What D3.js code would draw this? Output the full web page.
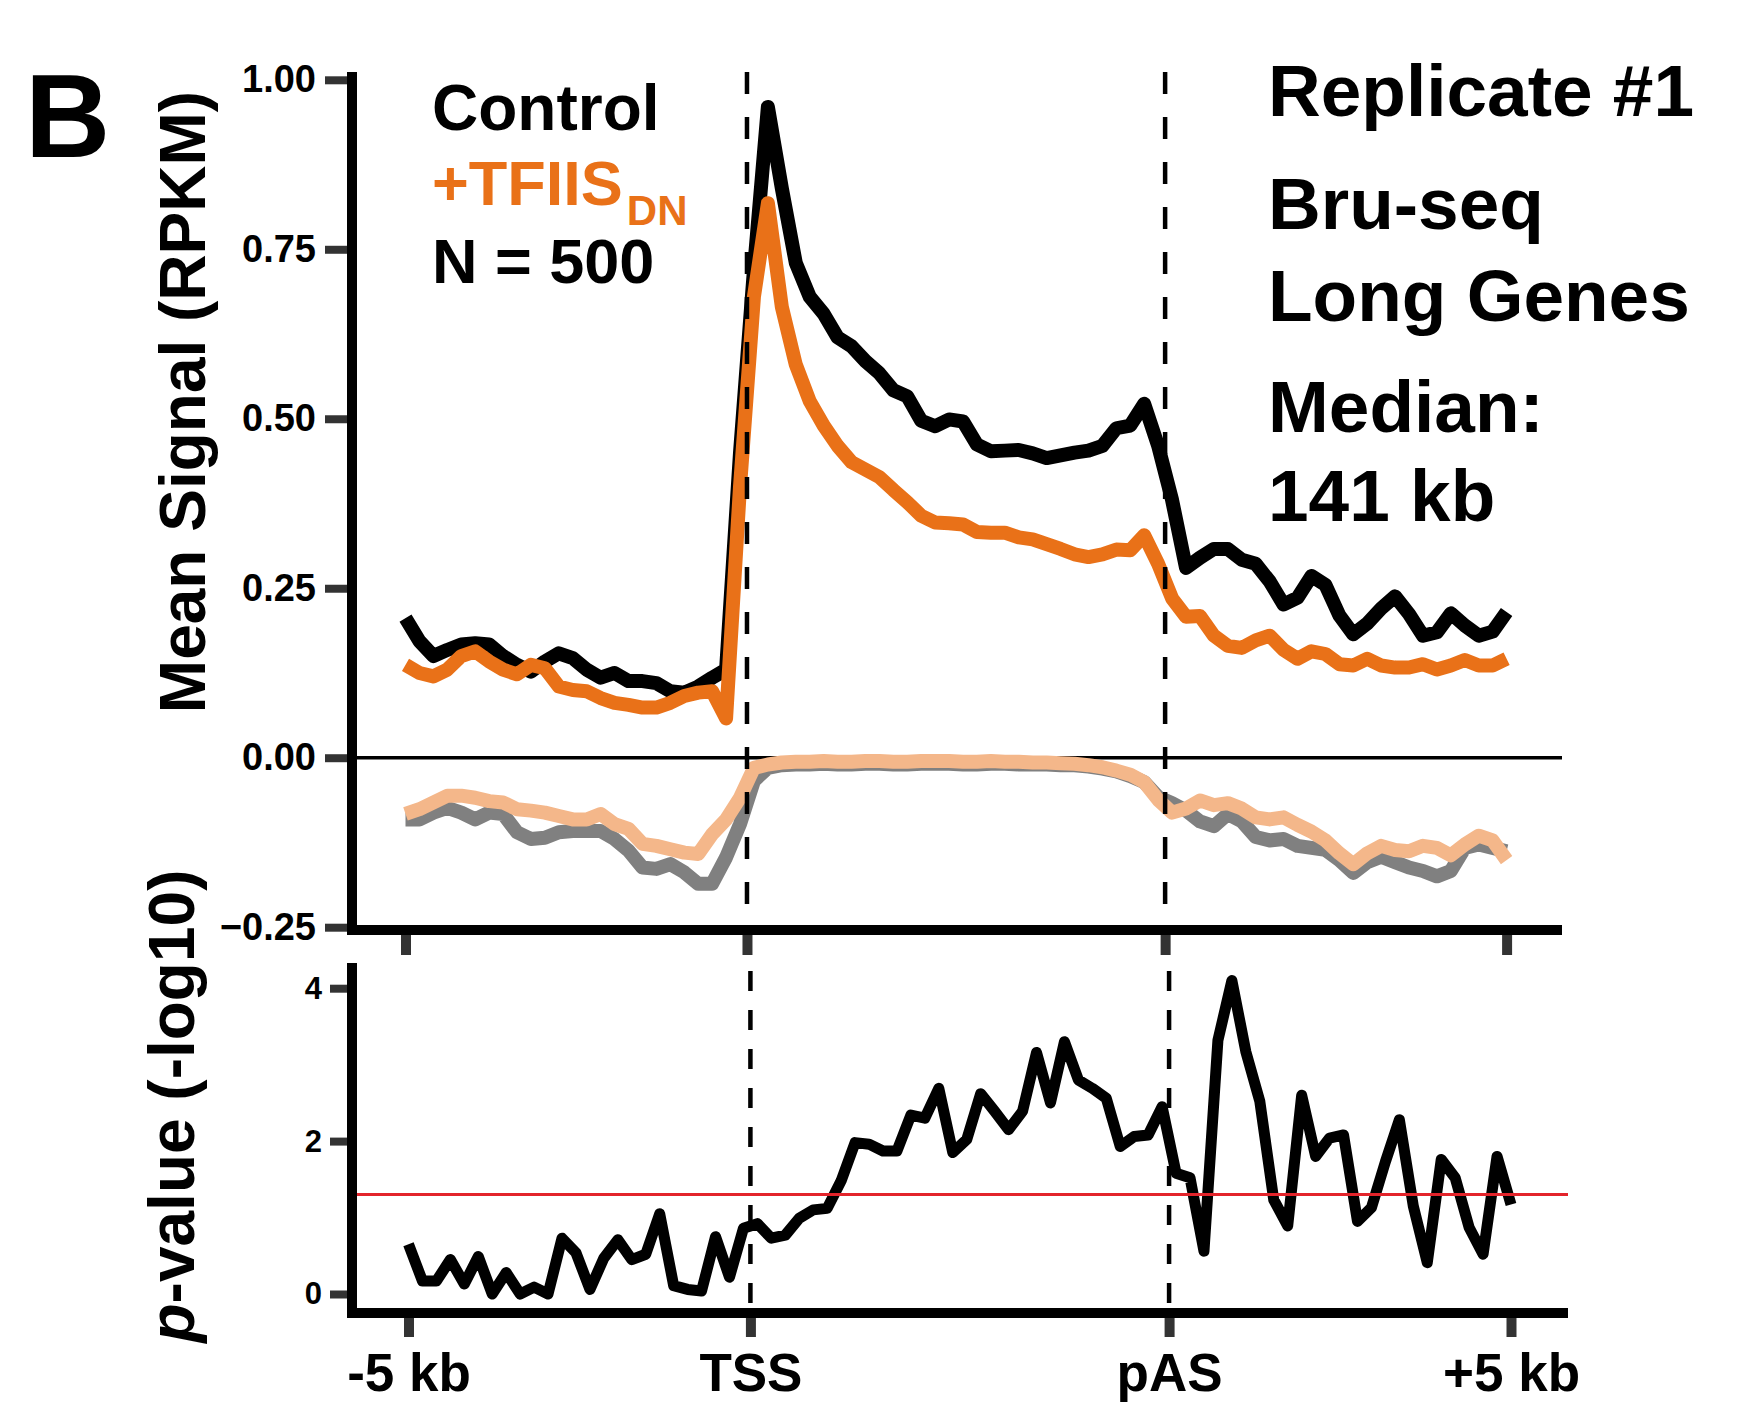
<!DOCTYPE html>
<html>
<head>
<meta charset="utf-8">
<script src="https://cdn.jsdelivr.net/npm/d3@7"></script>
<style>
  html, body { margin: 0; padding: 0; background: #fff; }
  svg { display: block; font-family: 'Liberation Sans', Arial, Helvetica, sans-serif; font-weight: bold; }
</style>
</head>
<body>
<svg width="1737" height="1402"></svg>
<script>
// metagene bins: 25 upstream, 30 gene body, 25 downstream
const positionTicks = [0, 24.5, 54.5, 79];
const positionLabels = ['-5 kb', 'TSS', 'pAS', '+5 kb'];
const signalTicks = [-0.25, 0, 0.25, 0.5, 0.75, 1];
const signalLabels = ['\u22120.25', '0.00', '0.25', '0.50', '0.75', '1.00'];
const pValueTicks = [0, 2, 4];
const pValueCutoff = 1.301; // -log10(0.05)

const controlSignal = [
  0.206, 0.172, 0.150, 0.159, 0.167, 0.169, 0.167, 0.150, 0.137, 0.127,
  0.142, 0.154, 0.147, 0.130, 0.118, 0.125, 0.113, 0.113, 0.110, 0.098,
  0.096, 0.105, 0.118, 0.130, 0.450, 0.720, 0.960, 0.840, 0.730, 0.680,
  0.655, 0.620, 0.607, 0.585, 0.567, 0.542, 0.533, 0.497, 0.489, 0.499,
  0.496, 0.462, 0.452, 0.453, 0.454, 0.449, 0.442, 0.446, 0.450, 0.453,
  0.460, 0.486, 0.490, 0.522, 0.460, 0.380, 0.280, 0.295, 0.308, 0.308,
  0.292, 0.286, 0.260, 0.226, 0.236, 0.268, 0.255, 0.210, 0.182, 0.198,
  0.220, 0.238, 0.212, 0.180, 0.185, 0.213, 0.195, 0.180, 0.186, 0.215,
];

const tfiisSignal = [
  0.137, 0.125, 0.120, 0.130, 0.150, 0.157, 0.142, 0.130, 0.123, 0.137,
  0.132, 0.105, 0.100, 0.098, 0.088, 0.081, 0.078, 0.074, 0.074, 0.081,
  0.091, 0.096, 0.098, 0.058, 0.400, 0.680, 0.818, 0.665, 0.580, 0.526,
  0.490, 0.460, 0.436, 0.425, 0.414, 0.395, 0.377, 0.357, 0.347, 0.346,
  0.344, 0.333, 0.332, 0.332, 0.325, 0.322, 0.315, 0.308, 0.300, 0.296,
  0.300, 0.307, 0.306, 0.328, 0.286, 0.235, 0.208, 0.209, 0.180, 0.165,
  0.162, 0.173, 0.180, 0.159, 0.146, 0.157, 0.153, 0.138, 0.136, 0.146,
  0.136, 0.133, 0.133, 0.138, 0.130, 0.136, 0.144, 0.136, 0.136, 0.146,
];

const controlDelta = [
  -0.091, -0.091, -0.081, -0.074, -0.081, -0.091, -0.081, -0.083, -0.110, -0.120,
  -0.118, -0.110, -0.108, -0.108, -0.108, -0.120, -0.137, -0.162, -0.164, -0.157,
  -0.169, -0.186, -0.186, -0.147, -0.098, -0.034, -0.015, -0.011, -0.010, -0.010,
  -0.009, -0.010, -0.010, -0.009, -0.009, -0.010, -0.010, -0.009, -0.009, -0.009,
  -0.010, -0.010, -0.009, -0.009, -0.010, -0.010, -0.010, -0.011, -0.011, -0.013,
  -0.016, -0.020, -0.027, -0.036, -0.058, -0.067, -0.078, -0.094, -0.101, -0.083,
  -0.094, -0.117, -0.122, -0.120, -0.130, -0.133, -0.136, -0.151, -0.170, -0.154,
  -0.146, -0.154, -0.162, -0.167, -0.175, -0.167, -0.133, -0.128, -0.133, -0.138,
];

const tfiisDelta = [
  -0.083, -0.076, -0.066, -0.056, -0.056, -0.059, -0.064, -0.066, -0.076, -0.078,
  -0.081, -0.086, -0.091, -0.091, -0.083, -0.098, -0.105, -0.127, -0.130, -0.135,
  -0.140, -0.142, -0.113, -0.091, -0.059, -0.015, -0.010, -0.007, -0.006, -0.006,
  -0.005, -0.006, -0.006, -0.005, -0.005, -0.006, -0.006, -0.005, -0.005, -0.005,
  -0.006, -0.006, -0.005, -0.006, -0.006, -0.007, -0.007, -0.008, -0.009, -0.011,
  -0.014, -0.019, -0.025, -0.036, -0.062, -0.081, -0.075, -0.063, -0.070, -0.067,
  -0.075, -0.088, -0.091, -0.088, -0.099, -0.109, -0.122, -0.141, -0.157, -0.141,
  -0.130, -0.136, -0.138, -0.130, -0.133, -0.144, -0.128, -0.115, -0.122, -0.151,
];

const pValue = [
  0.65, 0.17, 0.17, 0.45, 0.13, 0.49, 0.00, 0.28, 0.00, 0.09,
  0.00, 0.73, 0.54, 0.06, 0.47, 0.71, 0.45, 0.52, 1.05, 0.11,
  0.06, 0.04, 0.75, 0.22, 0.86, 0.92, 0.73, 0.77, 0.99, 1.10,
  1.12, 1.48, 1.98, 1.96, 1.87, 1.87, 2.34, 2.30, 2.69, 1.85,
  2.02, 2.62, 2.39, 2.15, 2.39, 3.16, 2.50, 3.30, 2.80, 2.69,
  2.56, 1.93, 2.06, 2.08, 2.45, 1.58, 1.52, 0.56, 3.32, 4.10,
  3.17, 2.52, 1.23, 0.89, 2.60, 1.80, 2.04, 2.08, 0.95, 1.13,
  1.73, 2.28, 1.15, 0.41, 1.76, 1.52, 0.87, 0.52, 1.80, 1.17,
];

const svg = d3.select('svg');

const topBox = { left: 352, right: 1562, top: 72, bottom: 930 };
const botBox = { left: 352, right: 1568, top: 963, bottom: 1313 };

const xTop = d3.scaleLinear().domain([0, 79]).range([405.5, 1506.6]);
const yTop = d3.scaleLinear().domain([-0.25, 1]).range([927.2, 79.8]);
const xBot = d3.scaleLinear().domain([0, 79]).range([408.5, 1511]);
const yBot = d3.scaleLinear().domain([0, 4]).range([1294, 988.2]);

const lineTop = d3.line().x((d, i) => xTop(i)).y(d => yTop(d));
const lineBot = d3.line().x((d, i) => xBot(i)).y(d => yBot(d));

// ---- top panel
const gTop = svg.append('g').attr('class', 'signal');

gTop.append('line')
  .attr('x1', topBox.left).attr('x2', topBox.right)
  .attr('y1', yTop(0)).attr('y2', yTop(0))
  .attr('stroke', '#000').attr('stroke-width', 3.5);

const topSeries = [
  { values: controlDelta, color: '#808080' },
  { values: tfiisDelta, color: '#f4b78a' },
  { values: controlSignal, color: '#000' },
  { values: tfiisSignal, color: '#e97118' },
];

gTop.selectAll('path.series')
  .data(topSeries)
  .enter()
  .append('path')
  .attr('class', 'series')
  .attr('fill', 'none')
  .attr('stroke', d => d.color)
  .attr('stroke-width', 14)
  .attr('stroke-linejoin', 'round')
  .attr('d', d => lineTop(d.values));

gTop.selectAll('line.mark')
  .data([positionTicks[1], positionTicks[2]])
  .enter()
  .append('line')
  .attr('class', 'mark')
  .attr('x1', d => xTop(d)).attr('x2', d => xTop(d))
  .attr('y1', topBox.top).attr('y2', topBox.bottom)
  .attr('stroke', '#000').attr('stroke-width', 4.5)
  .attr('stroke-dasharray', '22 23');

const yAxisTop = d3.axisLeft(yTop)
  .tickValues(signalTicks)
  .tickSize(27)
  .tickPadding(9)
  .tickFormat((d, i) => signalLabels[i]);

gTop.append('g')
  .attr('transform', `translate(${topBox.left},0)`)
  .call(yAxisTop)
  .call(g => g.select('.domain').remove())
  .call(g => g.selectAll('line').attr('stroke', '#333').attr('stroke-width', 8))
  .call(g => g.selectAll('text')
    .attr('fill', '#000')
    .style('font-size', '38px')
    .style('font-family', 'inherit')
    .style('font-weight', 'bold'));

gTop.append('g')
  .attr('transform', `translate(0,${topBox.bottom})`)
  .call(d3.axisBottom(xTop).tickValues(positionTicks).tickSize(25).tickFormat(''))
  .call(g => g.select('.domain').remove())
  .call(g => g.selectAll('line').attr('stroke', '#333').attr('stroke-width', 10));

gTop.append('path')
  .attr('fill', 'none')
  .attr('stroke', '#000')
  .attr('stroke-width', 10)
  .attr('d', `M${topBox.left},${topBox.top}V${topBox.bottom}H${topBox.right}`);

// ---- bottom panel
const gBot = svg.append('g').attr('class', 'pvalue');

gBot.append('path')
  .attr('fill', 'none')
  .attr('stroke', '#000')
  .attr('stroke-width', 11)
  .attr('stroke-linejoin', 'round')
  .attr('d', lineBot(pValue));

gBot.append('line')
  .attr('x1', botBox.left).attr('x2', botBox.right)
  .attr('y1', yBot(pValueCutoff)).attr('y2', yBot(pValueCutoff))
  .attr('stroke', '#e3242b').attr('stroke-width', 3);

gBot.selectAll('line.mark')
  .data([positionTicks[1], positionTicks[2]])
  .enter()
  .append('line')
  .attr('class', 'mark')
  .attr('x1', d => xBot(d)).attr('x2', d => xBot(d))
  .attr('y1', botBox.top + 8).attr('y2', botBox.bottom)
  .attr('stroke', '#000').attr('stroke-width', 4.5)
  .attr('stroke-dasharray', '20 19');

gBot.append('g')
  .attr('transform', `translate(${botBox.left},0)`)
  .call(d3.axisLeft(yBot).tickValues(pValueTicks).tickSize(22).tickPadding(8).tickFormat(d3.format('d')))
  .call(g => g.select('.domain').remove())
  .call(g => g.selectAll('line').attr('stroke', '#333').attr('stroke-width', 8))
  .call(g => g.selectAll('text')
    .attr('fill', '#000')
    .style('font-size', '31px')
    .style('font-family', 'inherit')
    .style('font-weight', 'bold'));

gBot.append('g')
  .attr('transform', `translate(0,${botBox.bottom})`)
  .call(d3.axisBottom(xBot).tickValues(positionTicks).tickSize(24).tickFormat((d, i) => positionLabels[i]))
  .call(g => g.select('.domain').remove())
  .call(g => g.selectAll('line').attr('stroke', '#333').attr('stroke-width', 10))
  .call(g => g.selectAll('text')
    .attr('fill', '#000')
    .attr('y', 78)
    .attr('dy', null)
    .style('font-size', '53px')
    .style('font-family', 'inherit')
    .style('font-weight', 'bold'));

gBot.append('path')
  .attr('fill', 'none')
  .attr('stroke', '#000')
  .attr('stroke-width', 10)
  .attr('d', `M${botBox.left},${botBox.top}V${botBox.bottom}H${botBox.right}`);

// ---- titles and annotations
svg.append('text')
  .attr('transform', 'translate(205,402) rotate(-90)')
  .attr('text-anchor', 'middle')
  .style('font-size', '64px')
  .text('Mean Signal (RPKM)');

const pTitle = svg.append('text')
  .attr('transform', 'translate(194,1106) rotate(-90)')
  .attr('text-anchor', 'middle')
  .style('font-size', '64px');
pTitle.append('tspan').style('font-style', 'italic').text('p');
pTitle.append('tspan').text('-value (-log10)');

svg.append('text')
  .attr('x', 25).attr('y', 157)
  .style('font-size', '118px')
  .text('B');

const legend = svg.append('g').attr('class', 'legend');
legend.append('text').attr('x', 432).attr('y', 130).style('font-size', '64px').text('Control');
const tf = legend.append('text').attr('x', 432).attr('y', 205).attr('fill', '#e97118').style('font-size', '63px');
tf.append('tspan').text('+TFIIS');
tf.append('tspan').attr('dx', 4).attr('dy', 20).style('font-size', '42px').text('DN');
legend.append('text').attr('x', 432).attr('y', 283).style('font-size', '63px').text('N = 500');

const notes = ['Replicate #1', 'Bru-seq', 'Long Genes', 'Median:', '141 kb'];
const noteY = [116, 229, 321, 432, 521];
svg.append('g')
  .selectAll('text')
  .data(notes)
  .enter()
  .append('text')
  .attr('x', 1268)
  .attr('y', (d, i) => noteY[i])
  .style('font-size', '73px')
  .text(d => d);
</script>
</body>
</html>
